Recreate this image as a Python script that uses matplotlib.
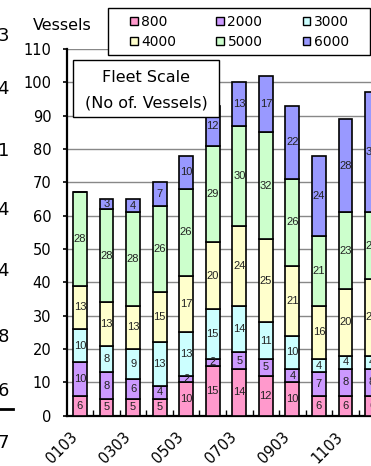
import numpy as np
import matplotlib
matplotlib.use("Agg")
import matplotlib.pyplot as plt
from matplotlib.patches import Rectangle, Patch
from matplotlib import font_manager

# Fleet composition by vessel size (TEU class), end of March each year
periods = ["0103", "0203", "0303", "0403", "0503", "0603",
           "0703", "0803", "0903", "1003", "1103", "1203"]
size_classes = ["800", "2000", "3000", "4000", "5000", "6000"]

teu_800 = [6, 5, 5, 5, 10, 15, 14, 12, 10, 6, 6, 6]
teu_2000 = [10, 8, 6, 4, 2, 2, 5, 5, 4, 7, 8, 8]
teu_3000 = [10, 8, 9, 13, 13, 15, 14, 11, 10, 4, 4, 4]
teu_4000 = [13, 13, 13, 15, 17, 20, 24, 25, 21, 16, 20, 23]
teu_5000 = [28, 28, 28, 26, 26, 29, 30, 32, 26, 21, 23, 20]
teu_6000 = [0, 3, 4, 7, 10, 12, 13, 17, 22, 24, 28, 36]

series = [teu_800, teu_2000, teu_3000, teu_4000, teu_5000, teu_6000]
colors = ["#FF99CC", "#CC99FF", "#CCFFFF", "#FFFFCC", "#CCFFCC", "#9999FF"]

y_ticks = list(range(0, 111, 10))
margin_figures = ["3", "4", "1", "4", "4", "8", "6", "7"]
margin_rows_px = [36, 89, 151, 210, 271, 337, 391, 443]

W, H = 371, 466
fig = plt.figure(figsize=(W / 100, H / 100), dpi=100)


def fx(px):
    return px / W


def fy(py):
    return 1 - py / H


installed = {f.name for f in font_manager.fontManager.ttflist}
if "Liberation Sans Narrow" in installed:
    label_font, label_size = "Liberation Sans Narrow", 8.5
elif "Liberation Sans" in installed:
    label_font, label_size = "Liberation Sans", 8
else:
    label_font, label_size = "DejaVu Sans", 7.5

ax_left, ax_bottom, ax_top = 66.7, 415.7, 48.9
unit_px = 26.55
ax = fig.add_axes([fx(ax_left), fy(ax_bottom), 13 * unit_px / W,
                   (ax_bottom - ax_top) / H])

x = np.arange(len(periods))
bottom = np.zeros(len(periods))
for name, vals, col in zip(size_classes, series, colors):
    vals = np.array(vals, dtype=float)
    bars = ax.bar(x, vals, 0.52, bottom=bottom, color=col, edgecolor="black",
                  linewidth=1.2, label=name, zorder=3)
    labels = [f"{int(v)}" if v > 0 else "" for v in vals]
    ax.bar_label(bars, labels=labels, label_type="center", fontsize=label_size,
                 family=label_font, color="#222222", zorder=4)
    bottom += vals

ax.set_xlim(-0.5, 12.5)
ax.set_ylim(0, 110)
ax.set_yticks(y_ticks)
ax.yaxis.grid(True, color="#888888", linewidth=1.0, zorder=0)
ax.set_axisbelow(True)
ax.tick_params(axis="y", direction="out", length=3, width=1.2, pad=8,
               labelsize=10.5, colors="black")

# category dividers on the x axis, labels on every other period
ax.set_xticks(np.arange(0.5, 12.5, 1.0))
ax.set_xticklabels([])
ax.tick_params(axis="x", which="major", direction="in", length=4, width=1.0)
ax.set_xticks(x[::2], minor=True)
ax.set_xticklabels([periods[i] for i in x[::2]], minor=True, rotation=45,
                   ha="right", va="top", fontsize=10.5)
ax.tick_params(axis="x", which="minor", length=0, pad=10)

for side in ("top", "right"):
    ax.spines[side].set_visible(False)
for side in ("left", "bottom"):
    ax.spines[side].set_linewidth(1.6)
    ax.spines[side].set_color("black")

# y-axis unit caption
fig.text(fx(62.5), fy(25), "Vessels", ha="center", va="center", fontsize=11.5)

# title box
fig.patches.append(Rectangle((fx(73), fy(117)), fx(146), 57 / H,
                             transform=fig.transFigure, facecolor="white",
                             edgecolor="black", linewidth=1.0, zorder=5))
fig.text(fx(146), fy(77), "Fleet Scale", ha="center", va="center",
         fontsize=11.5, zorder=6)
fig.text(fx(146), fy(103), "(No of. Vessels)", ha="center", va="center",
         fontsize=11.5, zorder=6)

# legend box (3 columns, filled row by row)
fig.patches.append(Rectangle((fx(108), fy(55)), fx(261.5), 47 / H,
                             transform=fig.transFigure, facecolor="white",
                             edgecolor="black", linewidth=1.0, zorder=5))
handles = [Patch(facecolor=c, edgecolor="black", linewidth=1.0, label=n)
           for n, c in zip(size_classes, colors)]
order = [0, 3, 1, 4, 2, 5]
leg = fig.legend([handles[i] for i in order], [size_classes[i] for i in order],
                 ncol=3, loc="center", bbox_to_anchor=(fx(239.5), fy(32)),
                 frameon=False, fontsize=10, handlelength=0.55,
                 handleheight=0.55, handletextpad=0.25, columnspacing=2.9,
                 labelspacing=0.45, borderpad=0)
leg.set_zorder(6)

# margin figures at the left edge
for s, py in zip(margin_figures, margin_rows_px):
    fig.text(fx(9), fy(py), s, ha="right", va="center", fontsize=13)
fig.add_artist(plt.Line2D([0, fx(13)], [fy(409), fy(409)], color="black",
                          linewidth=2.0, transform=fig.transFigure))

fig.savefig("out.png", dpi=100)
